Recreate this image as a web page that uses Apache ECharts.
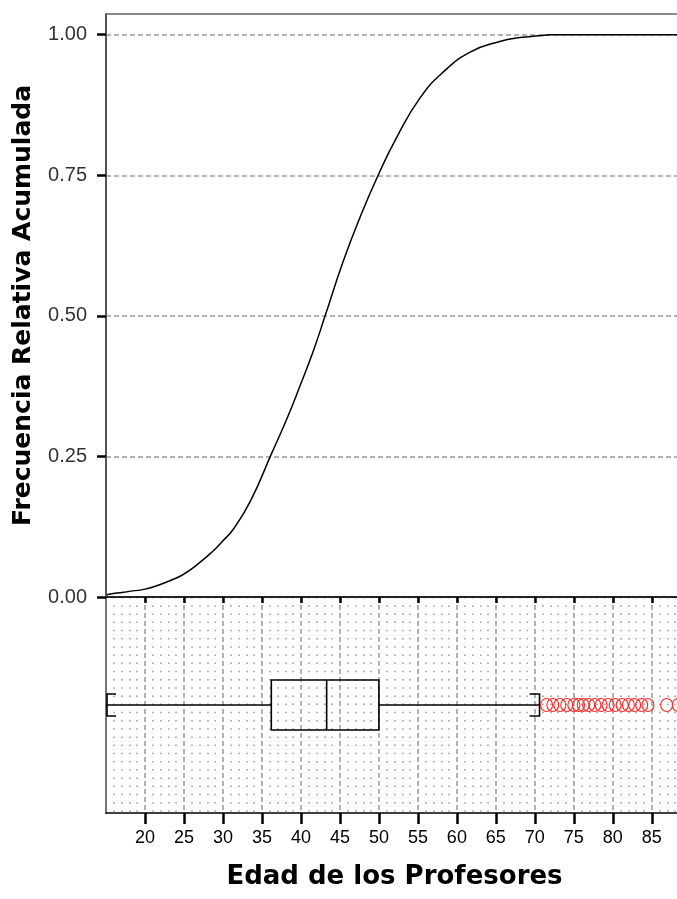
<!DOCTYPE html>
<html>
<head>
<meta charset="utf-8">
<title>Edad de los Profesores</title>
<script src="https://cdn.jsdelivr.net/npm/echarts@6/dist/echarts.min.js"></script>
<style>
html, body { margin: 0; padding: 0; background: #fff; }
#main { width: 677px; height: 899px; }
</style>
</head>
<body>
<div id="main"></div>
<script>
// tick labels
var ageTicks = [20, 25, 30, 35, 40, 45, 50, 55, 60, 65, 70, 75, 80, 85];
var freqTicks = [0, 0.25, 0.5, 0.75, 1];

// cumulative relative frequency
var curveAge  = [15.1, 16.4, 18.0, 20.0, 21.7, 23.2, 24.9, 27.0, 28.6, 30.0, 31.3, 33.5, 36.2, 38.2, 39.9, 41.6, 43.1, 45.4, 47.6, 49.9, 52.3, 55.3, 58.2, 61.7, 65.5, 68.1, 70.6, 72.0, 89.0];
var curveFreq = [0.004, 0.007, 0.010, 0.014, 0.021, 0.029, 0.040, 0.061, 0.080, 0.100, 0.120, 0.170, 0.254, 0.317, 0.376, 0.438, 0.500, 0.596, 0.676, 0.750, 0.818, 0.888, 0.933, 0.969, 0.988, 0.995, 0.998, 1.0, 1.0];

// box plot: min, q1, median, q3, max
var boxStats = [15, 36.2, 43.3, 50.0, 70.6];
var outlierAges = [71.5, 72.3, 73.2, 74.1, 75.0, 75.6, 76.2, 76.9, 77.7, 78.5, 79.4, 80.3, 81.2, 82.0, 82.8, 83.7, 84.5, 86.9, 88.4];

var chart = echarts.init(document.getElementById('main'));

var curveData = [];
for (var i = 0; i < curveAge.length; i++) {
    curveData.push([curveAge[i], curveFreq[i]]);
}
var outlierData = [];
for (var j = 0; j < outlierAges.length; j++) {
    outlierData.push([outlierAges[j], 0.5]);
}

var font = "'Liberation Sans', Arial, sans-serif";
var titleFont = "'DejaVu Sans', 'Liberation Sans', Arial, sans-serif";

function renderBox(params, api) {
    var y = api.value(5);
    var pMin = api.coord([api.value(0), y]);
    var pQ1 = api.coord([api.value(1), y]);
    var pMed = api.coord([api.value(2), y]);
    var pQ3 = api.coord([api.value(3), y]);
    var pMax = api.coord([api.value(4), y]);
    var cy = pMin[1];
    var half = 25, cap = 11, stub = 10;
    var st = { stroke: '#000', lineWidth: 1.6, fill: null };
    return {
        type: 'group',
        children: [
            { type: 'line', shape: { x1: pMin[0], y1: cy, x2: pQ1[0], y2: cy }, style: st },
            { type: 'line', shape: { x1: pQ3[0], y1: cy, x2: pMax[0], y2: cy }, style: st },
            { type: 'rect', shape: { x: pQ1[0], y: cy - half, width: pQ3[0] - pQ1[0], height: half * 2 }, style: st },
            { type: 'line', shape: { x1: pMed[0], y1: cy - half, x2: pMed[0], y2: cy + half }, style: st },
            { type: 'polyline', shape: { points: [[pMin[0] + stub, cy - cap], [pMin[0] + 1, cy - cap], [pMin[0] + 1, cy + cap], [pMin[0] + stub, cy + cap]] }, style: st },
            { type: 'polyline', shape: { points: [[pMax[0] - stub, cy - cap], [pMax[0], cy - cap], [pMax[0], cy + cap], [pMax[0] - stub, cy + cap]] }, style: st }
        ]
    };
}

var option = {
    backgroundColor: '#fff',
    animation: false,
    grid: [
        { left: 106, top: 14, right: -6, height: 583, outerBoundsMode: 'none', show: true, borderColor: '#666', borderWidth: 1.5, backgroundColor: '#fff' },
        { left: 106, top: 597, right: -6, height: 216, outerBoundsMode: 'none', show: false }
    ],
    xAxis: [
        {
            gridIndex: 0,
            type: 'value',
            min: 15,
            max: 89.0,
            interval: 5,
            axisLine: { show: true, lineStyle: { color: '#000', width: 1.5 } },
            axisTick: { show: true, customValues: ageTicks, length: 6, lineStyle: { color: '#000', width: 2.5 } },
            axisLabel: { show: false },
            splitLine: { show: false }
        },
        {
            gridIndex: 1,
            type: 'value',
            min: 15,
            max: 89.0,
            interval: 5,
            name: 'Edad de los Profesores',
            nameLocation: 'middle',
            nameGap: 51,
            nameTextStyle: { fontSize: 26, fontWeight: 'bold', color: '#000', fontFamily: titleFont },
            axisLine: { show: true, lineStyle: { color: '#000', width: 1.5 } },
            axisTick: { show: true, customValues: ageTicks, length: 11, lineStyle: { color: '#000', width: 2.5 } },
            axisLabel: {
                customValues: ageTicks,
                margin: 16,
                fontSize: 18,
                color: '#000',
                fontFamily: font
            },
            splitLine: { show: true, lineStyle: { color: '#999', width: 1.5, type: [5, 3] } },
            minorTick: { show: false, splitNumber: 5 },
            minorSplitLine: { show: true, lineStyle: { color: '#999', width: 1.5, type: [1.5, 6.7] } }
        }
    ],
    yAxis: [
        {
            gridIndex: 0,
            type: 'value',
            min: 0,
            max: 1.0368,
            interval: 0.25,
            name: 'Frecuencia Relativa Acumulada',
            nameLocation: 'middle',
            nameGap: 70,
            nameTextStyle: { fontSize: 25, fontWeight: 'bold', color: '#000', fontFamily: titleFont },
            axisLine: { show: true, lineStyle: { color: '#444', width: 1.5 } },
            axisTick: { show: true, customValues: freqTicks, length: 9, lineStyle: { color: '#000', width: 2.5 } },
            axisLabel: {
                customValues: freqTicks,
                margin: 19,
                fontSize: 20,
                color: '#333',
                fontFamily: font,
                formatter: function (v) { return v.toFixed(2); }
            },
            splitLine: { show: true, lineStyle: { color: '#999', width: 1.5, type: [5, 3] } }
        },
        {
            gridIndex: 1,
            type: 'value',
            min: 0,
            max: 1,
            axisLine: { show: true, lineStyle: { color: '#777', width: 2 } },
            axisTick: { show: false },
            axisLabel: { show: false },
            splitLine: { show: false }
        }
    ],
    series: [
        {
            type: 'line',
            xAxisIndex: 0,
            yAxisIndex: 0,
            data: curveData,
            smooth: 0.5,
            showSymbol: false,
            lineStyle: { color: '#000', width: 1.5 },
            z: 5
        },
        {
            type: 'custom',
            xAxisIndex: 1,
            yAxisIndex: 1,
            renderItem: renderBox,
            encode: { x: [0, 1, 2, 3, 4], y: 5 },
            data: [boxStats.concat([0.5])],
            z: 5
        },
        {
            type: 'scatter',
            xAxisIndex: 1,
            yAxisIndex: 1,
            data: outlierData,
            symbol: 'circle',
            symbolSize: [12, 13],
            itemStyle: { color: 'rgba(0,0,0,0)', borderColor: '#ff2a2a', borderWidth: 1.2, opacity: 1 },
            z: 6
        }
    ]
};

chart.setOption(option);
</script>
</body>
</html>
